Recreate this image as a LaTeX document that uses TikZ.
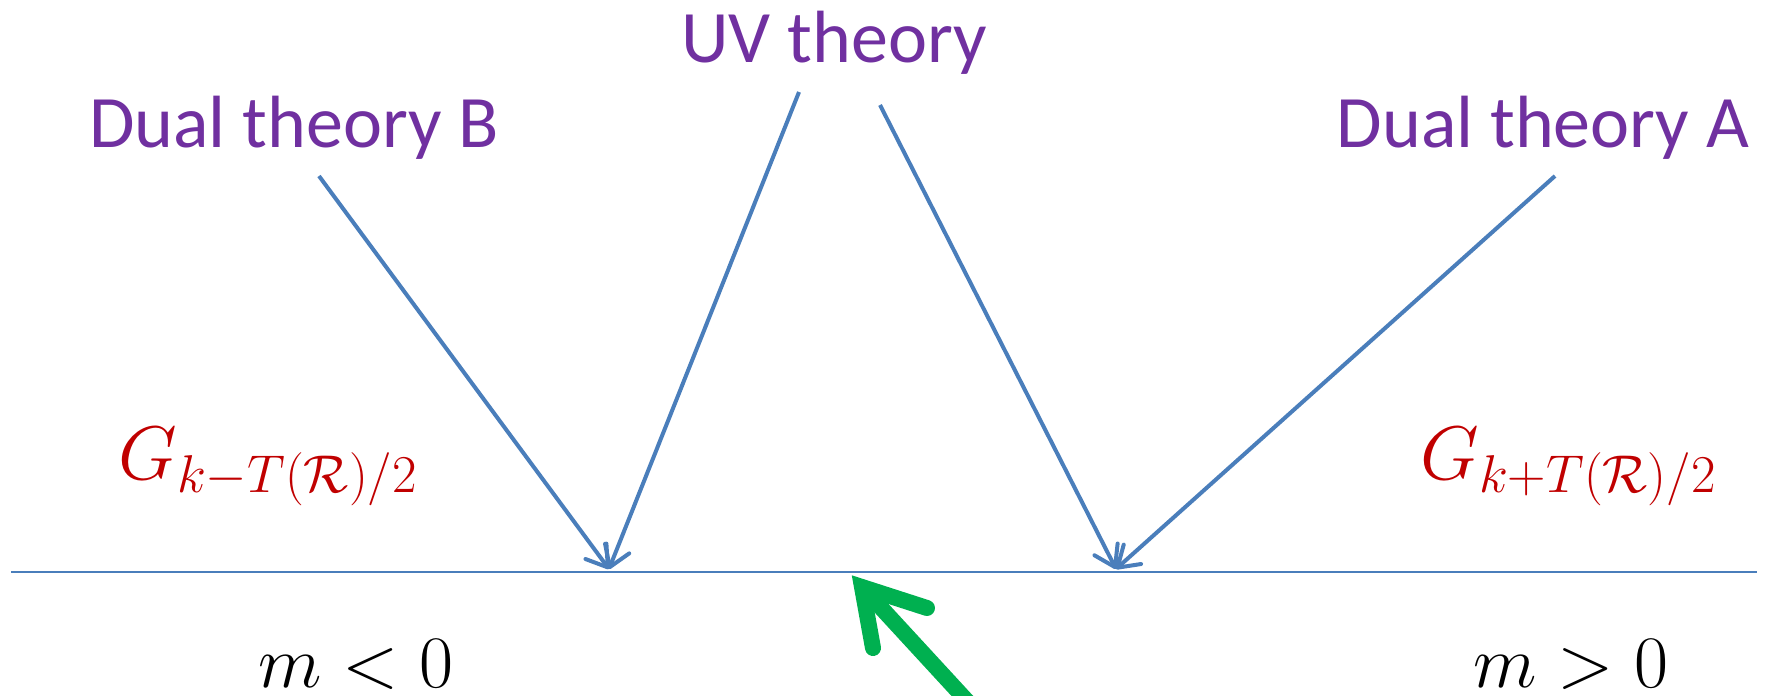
\RequirePackage{fix-cm}
\documentclass[tikz,border=0pt]{standalone}
\usepackage{fontspec}
\setmainfont{Carlito}
\usetikzlibrary{arrows.meta}
\definecolor{txtpurple}{HTML}{7030A0}
\definecolor{lblred}{HTML}{C00000}
\definecolor{lineblue}{HTML}{4A7EBB}
\definecolor{arrgreen}{HTML}{00B050}
\tikzset{
  title/.style={text=txtpurple, font=\fontsize{37}{44}\selectfont, inner sep=0pt, anchor=base},
  grp/.style={text=lblred, font=\fontsize{38}{46}\selectfont, inner sep=0pt, anchor=base west},
  mass/.style={text=black, font=\fontsize{37}{44}\selectfont, inner sep=0pt, anchor=base west},
  flow/.style={draw=lineblue, line width=2pt, -{Straight Barb[length=10pt,width=13pt,line width=2pt,round]}},
  axis/.style={draw=lineblue, line width=1pt},
  pointer/.style={draw=arrgreen, line width=8pt, line cap=round, line join=miter}
}
\begin{document}
\begin{tikzpicture}[x=0.5pt,y=-0.5pt]
\useasboundingbox (0,0) rectangle (1768,696);
% labels
\node[title] (uv) at (834,62) {UV theory};
\node[title] (dualB) at (294,147) {Dual theory B};
\node[title] (dualA) at (1543,147) {Dual theory A};
\node[grp] (gminus) at (118,479) {$G_{k-T(\mathcal{R})/2}$};
\node[grp] (gplus) at (1420,479) {$G_{k+T(\mathcal{R})/2}$};
\node[mass] (mneg) at (258,687) {$m<0$};
\node[mass] (mpos) at (1473,687) {$m>0$};
% axis
\coordinate (axL) at (11,572);
\coordinate (axR) at (1757,572);
\draw[axis] (axL) -- (axR);
% flow endpoints
\coordinate (sB) at (319,176);
\coordinate (sUVl) at (799,92);
\coordinate (sUVr) at (880,105);
\coordinate (sA) at (1555,176);
\coordinate (pL) at (609,569);
\coordinate (pR) at (1116,569);
\draw[flow] (sB) -- (pL);
\draw[flow] (sUVl) -- (pL);
\draw[flow] (sUVr) -- (pR);
\draw[flow] (sA) -- (pR);
% green pointer
\coordinate (gtip) at (862,587);
\coordinate (gtail) at (990,726);
\coordinate (gb1) at (873,648);
\coordinate (gb2) at (927,608);
\draw[pointer, line cap=butt] (gtail) -- (gtip);
\draw[pointer] (gb1) -- (gtip) -- (gb2);
\end{tikzpicture}
\end{document}
